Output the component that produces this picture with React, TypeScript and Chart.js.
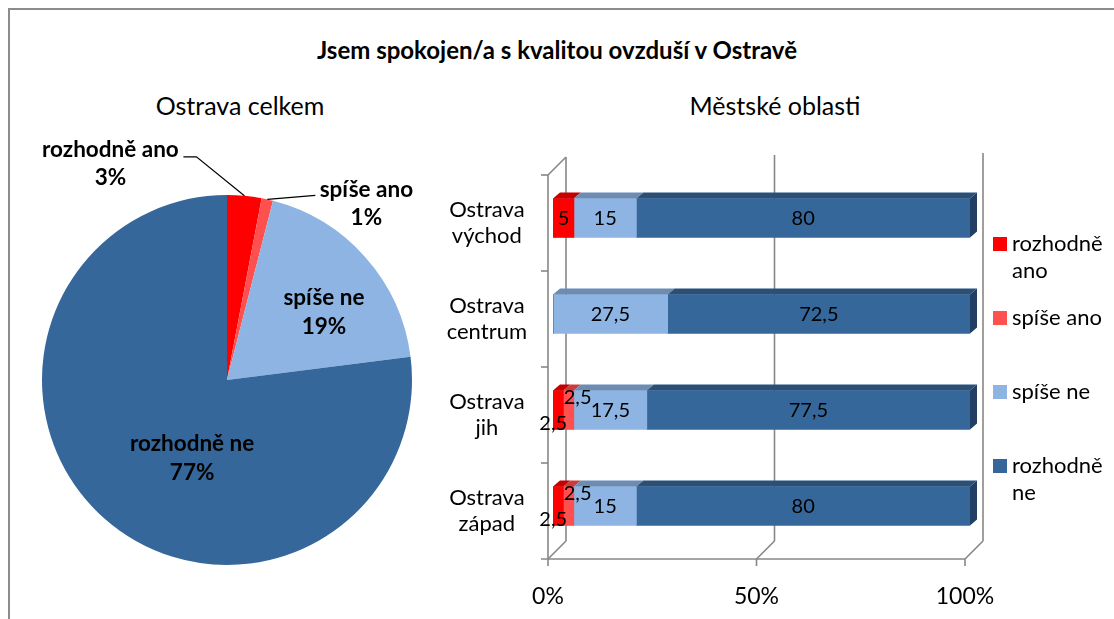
import React, { useEffect, useRef } from 'react';
import { Chart, registerables } from 'chart.js';

Chart.register(...registerables);

const FONT = 'Lato, "Open Sans", sans-serif';

// ---------- data ----------
const pieLabels = ['rozhodně ano', 'spíše ano', 'spíše ne', 'rozhodně ne'];
const pieValues = [3, 1, 19, 77];

const regions = [
  ['Ostrava', 'východ'],
  ['Ostrava', 'centrum'],
  ['Ostrava', 'jih'],
  ['Ostrava', 'západ'],
];
const seriesNames = ['rozhodně ano', 'spíše ano', 'spíše ne', 'rozhodně ne'];
const rozhodneAno = [5, 0, 2.5, 2.5];
const spiseAno = [0, 0, 2.5, 2.5];
const spiseNe = [15, 27.5, 17.5, 15];
const rozhodneNe = [80, 72.5, 77.5, 80];
const xTickValues = [0, 50, 100];

const titleText = 'Jsem spokojen/a s kvalitou ovzduší v Ostravě';
const pieTitle = 'Ostrava celkem';
const barTitle = 'Městské oblasti';

// ---------- styles ----------
const colors = ['#ff0000', '#ff5050', '#8db4e2', '#35679a'];
const topColors = ['#c40000', '#cc3c3c', '#6c8cb4', '#2a5079'];
const sideColor = '#213f62';
const wallColor = '#878787';

const fmt = (v: number) => String(v).replace('.', ',');

// pie label placement (text positions only)
const pieLabelStyle: any[] = [
  { mode: 'out', elbow: [-48, -39], end: [-61, -39], text: [-134, -46] },
  { mode: 'out', elbow: null, end: [48, -4], text: [99, -10] },
  { mode: 'in', frac: 0.64, adj: 6.4 },
  { mode: 'in', frac: 0.46, adj: -17.2 },
];

const piePlugin = {
  id: 'pieLabels',
  afterDatasetsDraw(chart: any) {
    const ctx = chart.ctx;
    const meta = chart.getDatasetMeta(0);
    ctx.save();
    ctx.font = `bold 22.5px ${FONT}`;
    ctx.fillStyle = '#000';
    ctx.textAlign = 'center';
    ctx.textBaseline = 'middle';
    meta.data.forEach((arc: any, i: number) => {
      const p = arc.getProps(['x', 'y', 'startAngle', 'endAngle', 'outerRadius'], true);
      const mid = (p.startAngle + p.endAngle) / 2;
      const st = pieLabelStyle[i];
      const pct = Math.round(pieValues[i]) + '%';
      if (st.mode === 'in') {
        const a = mid + (st.adj * Math.PI) / 180;
        const cx = p.x + Math.cos(a) * p.outerRadius * st.frac;
        const cy = p.y + Math.sin(a) * p.outerRadius * st.frac;
        ctx.fillText(pieLabels[i], cx, cy - 14);
        ctx.fillText(pct, cx, cy + 15);
      } else {
        const ax = p.x + Math.cos(mid) * p.outerRadius;
        const ay = p.y + Math.sin(mid) * p.outerRadius;
        ctx.strokeStyle = '#000';
        ctx.lineWidth = 1.2;
        ctx.beginPath();
        ctx.moveTo(ax, ay);
        if (st.elbow) ctx.lineTo(ax + st.elbow[0], ay + st.elbow[1]);
        ctx.lineTo(ax + st.end[0], ay + st.end[1]);
        ctx.stroke();
        const tx = ax + st.text[0];
        const ty = ay + st.text[1];
        ctx.fillText(pieLabels[i], tx, ty);
        ctx.fillText(pct, tx, ty + 28);
      }
    });
    ctx.restore();
  },
};

// 3D geometry offsets relative to bar face plane
const FRONT = [-5, 5];
const BACK = [13, -13];
const DEPTH = [7, -6];

const labelOffsets = [
  [-5, 13],
  [9, -13],
  [0, 0],
  [0, 0],
];

const bar3d = {
  id: 'bar3d',
  beforeDatasetsDraw(chart: any) {
    const ctx = chart.ctx;
    const xs = chart.scales.x;
    const ys = chart.scales.y;
    const { top, bottom } = chart.chartArea;
    ctx.save();
    ctx.strokeStyle = wallColor;
    ctx.lineWidth = 1.6;
    const line = (x1: number, y1: number, x2: number, y2: number) => {
      ctx.beginPath();
      ctx.moveTo(x1, y1);
      ctx.lineTo(x2, y2);
      ctx.stroke();
    };
    const x0 = xs.getPixelForValue(0);
    const x100 = xs.getPixelForValue(100);
    xTickValues.forEach((v) => {
      const px = xs.getPixelForValue(v);
      line(px + BACK[0], top + BACK[1] - (v / 100) * 4, px + BACK[0], bottom + BACK[1]);
      line(px + FRONT[0], bottom + FRONT[1], px + BACK[0], bottom + BACK[1]);
      line(px + FRONT[0], bottom + FRONT[1], px + FRONT[0], bottom + FRONT[1] + 7);
    });
    line(x0 + FRONT[0] - 7, bottom + FRONT[1], x100 + FRONT[0], bottom + FRONT[1]);
    line(x0 + FRONT[0], top + FRONT[1], x0 + FRONT[0], bottom + FRONT[1]);
    line(x0 + FRONT[0], top + FRONT[1], x0 + BACK[0], top + BACK[1]);
    const n = regions.length;
    const step = (bottom - top) / n;
    for (let i = 0; i < n; i++) {
      const y = ys.getPixelForValue(i) - step / 2 + FRONT[1];
      line(x0 + FRONT[0] - 7, y, x0 + FRONT[0], y);
    }
    ctx.restore();
  },
  afterDatasetsDraw(chart: any) {
    const ctx = chart.ctx;
    const nDs = chart.data.datasets.length;
    ctx.save();
    // top faces
    for (let d = 0; d < nDs; d++) {
      const meta = chart.getDatasetMeta(d);
      meta.data.forEach((el: any, j: number) => {
        const v = chart.data.datasets[d].data[j];
        if (!v) return;
        const p = el.getProps(['x', 'y', 'base', 'height'], true);
        const t = p.y - p.height / 2;
        ctx.fillStyle = topColors[d];
        ctx.beginPath();
        ctx.moveTo(p.base, t);
        ctx.lineTo(p.x, t);
        ctx.lineTo(p.x + DEPTH[0], t + DEPTH[1]);
        ctx.lineTo(p.base + DEPTH[0], t + DEPTH[1]);
        ctx.closePath();
        ctx.fill();
      });
    }
    // side faces for last segment
    const nCat = chart.data.labels.length;
    for (let j = 0; j < nCat; j++) {
      let last = -1;
      for (let d = 0; d < nDs; d++) if (chart.data.datasets[d].data[j]) last = d;
      if (last < 0) continue;
      const el = chart.getDatasetMeta(last).data[j];
      const p = el.getProps(['x', 'y', 'base', 'height'], true);
      const t = p.y - p.height / 2;
      const b = p.y + p.height / 2;
      ctx.fillStyle = sideColor;
      ctx.beginPath();
      ctx.moveTo(p.x, t);
      ctx.lineTo(p.x + DEPTH[0], t + DEPTH[1]);
      ctx.lineTo(p.x + DEPTH[0], b + DEPTH[1]);
      ctx.lineTo(p.x, b);
      ctx.closePath();
      ctx.fill();
    }
    // value labels
    ctx.font = `20px ${FONT}`;
    ctx.fillStyle = '#000';
    ctx.textAlign = 'center';
    ctx.textBaseline = 'middle';
    for (let d = 0; d < nDs; d++) {
      const meta = chart.getDatasetMeta(d);
      meta.data.forEach((el: any, j: number) => {
        const v = chart.data.datasets[d].data[j];
        if (!v) return;
        const p = el.getProps(['x', 'y', 'base'], true);
        let cx = (p.x + p.base) / 2;
        let cy = p.y;
        if (v < 4) {
          cx += labelOffsets[d][0];
          cy += labelOffsets[d][1];
        }
        ctx.fillText(fmt(v), cx, cy + 1);
      });
    }
    ctx.restore();
  },
  afterDraw(chart: any) {
    // legend
    const ctx = chart.ctx;
    const ca = chart.chartArea;
    ctx.save();
    ctx.font = `22px ${FONT}`;
    ctx.textBaseline = 'middle';
    ctx.textAlign = 'left';
    const lx = ca.right + 23;
    let y = ca.top + 74;
    chart.data.datasets.forEach((ds: any, i: number) => {
      const words = ds.label.split(' ');
      const lines = ctx.measureText(ds.label).width > 100 ? [words.slice(0, -1).join(' '), words[words.length - 1]] : [ds.label];
      ctx.fillStyle = colors[i];
      ctx.fillRect(lx, y - 7, 14, 14);
      ctx.fillStyle = '#000';
      lines.forEach((ln: string, k: number) => ctx.fillText(ln, lx + 19, y + k * 27));
      y += 74;
    });
    ctx.restore();
  },
};

export default function App() {
  const pieRef = useRef<HTMLCanvasElement | null>(null);
  const barRef = useRef<HTMLCanvasElement | null>(null);

  useEffect(() => {
    const pie = new Chart(pieRef.current as HTMLCanvasElement, {
      type: 'pie',
      data: {
        labels: pieLabels,
        datasets: [
          {
            data: pieValues,
            backgroundColor: colors,
            borderWidth: 0,
            radius: 185,
          } as any,
        ],
      },
      options: {
        animation: false,
        responsive: false,
        layout: { padding: 0 },
        plugins: { legend: { display: false }, tooltip: { enabled: false } },
      },
      plugins: [piePlugin],
    });

    const seriesData = [rozhodneAno, spiseAno, spiseNe, rozhodneNe];
    const bar = new Chart(barRef.current as HTMLCanvasElement, {
      type: 'bar',
      data: {
        labels: regions as any,
        datasets: seriesData.map((d, i) => ({
          label: seriesNames[i],
          data: d,
          backgroundColor: colors[i],
          borderWidth: 0,
          barThickness: 39,
        })),
      },
      options: {
        indexAxis: 'y',
        animation: false,
        responsive: false,
        layout: { padding: { top: 30, right: 144, left: 0, bottom: 0 } },
        plugins: { legend: { display: false }, tooltip: { enabled: false } },
        scales: {
          x: {
            stacked: true,
            min: 0,
            max: 100,
            grid: { display: false, drawTicks: false },
            border: { display: false },
            ticks: {
              stepSize: 50,
              callback: (v: any) => v + '%',
              font: { family: FONT, size: 23 },
              color: '#000',
              labelOffset: -5,
              padding: 29,
            },
            afterFit: (s: any) => {
              s.height = 65;
              s.paddingLeft = 0;
              s.paddingRight = 0;
            },
          },
          y: {
            stacked: true,
            grid: { display: false, drawTicks: false },
            border: { display: false },
            ticks: {
              font: { family: FONT, size: 22 },
              color: '#000',
              crossAlign: 'center',
              padding: 26,
              labelOffset: 5,
            },
            afterFit: (s: any) => {
              s.width = 133;
              s.paddingTop = 0;
              s.paddingBottom = 0;
            },
          },
        },
      } as any,
      plugins: [bar3d],
    });

    return () => {
      pie.destroy();
      bar.destroy();
    };
  }, []);

  return (
    <div
      style={{
        position: 'fixed',
        left: 0,
        top: 0,
        width: 1114,
        height: 619,
        overflow: 'hidden',
        background: '#fff',
        fontFamily: FONT,
      }}
    >
      <div
        style={{
          position: 'absolute',
          left: 8,
          top: 8,
          width: 1200,
          height: 700,
          border: '2px solid #8c8c8c',
        }}
      />
      <div
        style={{
          position: 'absolute',
          left: 0,
          top: 35,
          width: 1114,
          textAlign: 'center',
          fontWeight: 'bold',
          fontSize: 24,
          lineHeight: '30px',
        }}
      >
        {titleText}
      </div>
      <div
        style={{
          position: 'absolute',
          left: 90,
          top: 90,
          width: 300,
          textAlign: 'center',
          fontSize: 25,
          lineHeight: '30px',
        }}
      >
        {pieTitle}
      </div>
      <div
        style={{
          position: 'absolute',
          left: 625,
          top: 90,
          width: 300,
          textAlign: 'center',
          fontSize: 25,
          lineHeight: '30px',
        }}
      >
        {barTitle}
      </div>
      <canvas
        ref={pieRef}
        width={454}
        height={560}
        style={{ position: 'absolute', left: 0, top: 100, width: 454, height: 560 }}
      />
      <canvas
        ref={barRef}
        width={694}
        height={479}
        style={{ position: 'absolute', left: 420, top: 140, width: 694, height: 479 }}
      />
    </div>
  );
}
